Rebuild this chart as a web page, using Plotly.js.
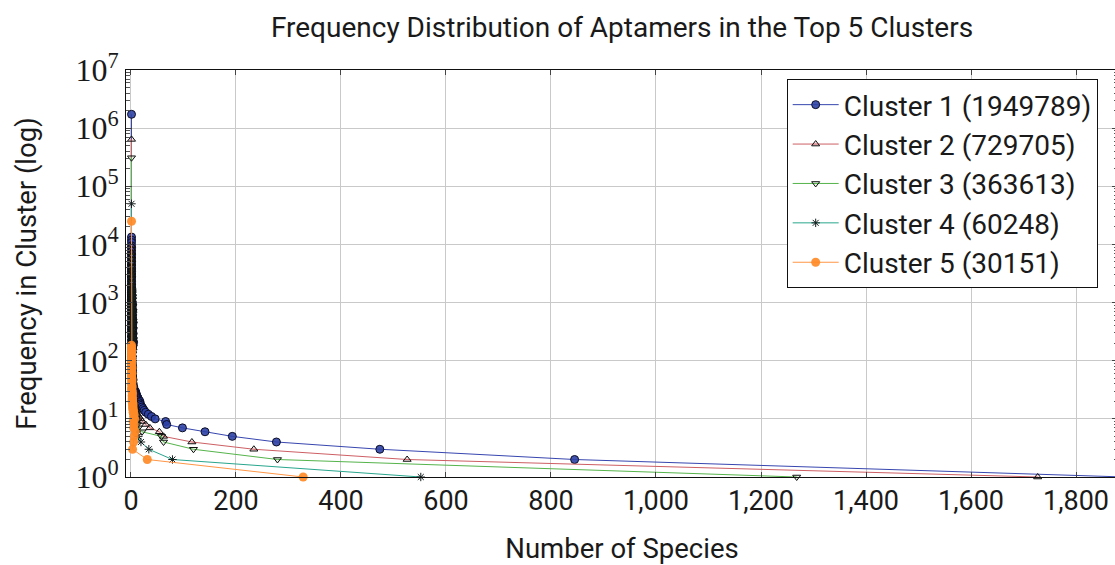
<!DOCTYPE html>
<html>
<head>
<meta charset="utf-8">
<script src="https://cdn.plot.ly/plotly-3.0.1.min.js"></script>
<style>
  html, body { margin: 0; padding: 0; overflow: hidden; background: #fff; }
  #chart { width: 1120px; height: 565px; }
</style>
</head>
<body>
<div id="chart"></div>
<script>
// Frequency of each aptamer (y) against how many species share that frequency (x)

const clusterNames = [
  'Cluster 1 (1949789)',
  'Cluster 2 (729705)',
  'Cluster 3 (363613)',
  'Cluster 4 (60248)',
  'Cluster 5 (30151)'
];

// Cluster 1
const c1Freq = [
  1730000, 13400, 11900, 10800, 9500, 8600, 7800, 7000, 6400, 5800, 5300,
  4800, 4400, 4000, 3700, 3400, 3100, 2850, 2600, 2400, 2200,
  2000, 1850, 1700, 1640, 1580, 1520, 1460, 1400, 1345, 1290,
  1240, 1190, 1145, 1100, 1055, 1015, 975, 935, 900, 865,
  830, 800, 768, 738, 710, 682, 655, 630, 605, 582,
  560, 538, 517, 497, 478, 460, 442, 425, 408, 392,
  377, 362, 348, 335, 322, 309, 297, 286, 275, 264,
  254, 244, 235, 226, 217, 208, 200, 192, 185, 178,
  166, 153, 141, 130, 120, 111, 102, 94, 87, 80,
  74, 68, 63, 58, 54, 50, 47, 44, 41, 38,
  36, 34, 32, 31, 30, 29, 28, 27, 26, 25,
  24, 23, 22, 21, 20, 19, 18, 17, 16, 15,
  14, 13, 12, 11, 10, 9, 8, 7, 6, 5, 4, 3, 2, 1
];
const c1Species = [
  1, 1, 1, 1, 1, 1, 1, 1, 1, 1, 1,
  1, 1, 1, 1, 1, 1, 1, 1, 1, 1,
  1, 1, 1, 1, 2, 1, 1, 1, 2, 1,
  1, 2, 1, 1, 1, 2, 1, 3, 1, 2,
  1, 2, 1, 3, 2, 1, 2, 1, 3, 2,
  1, 2, 3, 1, 2, 4, 1, 2, 3, 1,
  2, 4, 1, 3, 2, 1, 4, 2, 3, 1,
  2, 4, 3, 1, 2, 5, 3, 2, 4, 3,
  2, 1, 2, 1, 2, 2, 1, 2, 2, 3,
  2, 3, 2, 3, 3, 3, 4, 3, 4, 4,
  5, 5, 6, 7, 8, 9, 9, 10, 10, 11,
  12, 13, 14, 15, 17, 16, 18, 19, 21, 23,
  25, 28, 33, 39, 46, 66, 68, 98, 141, 193, 277, 474, 845, 1893
];

// Cluster 2
const c2Freq = [
  640000, 9600, 8300, 7200, 6300, 5500, 4800, 4200, 3700, 3250,
  2850, 2500, 2200, 1950, 1700, 1600, 1500, 1410, 1330, 1250,
  1180, 1110, 1040, 980, 920, 870, 820, 775, 730, 690,
  650, 615, 580, 548, 515, 487, 460, 435, 410, 387,
  365, 345, 325, 307, 290, 274, 260, 246, 232, 219,
  207, 196, 185, 175, 165, 156, 148, 140, 132, 125,
  118, 106, 95, 85, 76, 68, 61, 55, 50, 45,
  41, 37, 34, 31, 28, 26, 24, 22, 20, 19,
  18, 17, 16, 15, 14, 13, 12, 11, 10, 9, 8, 7, 6, 5, 4, 3, 2, 1
];
const c2Species = [
  1, 1, 1, 1, 1, 1, 1, 1, 1, 1,
  1, 1, 1, 1, 1, 2, 1, 1, 2, 1,
  1, 2, 1, 3, 1, 2, 1, 2, 3, 1,
  2, 1, 3, 2, 1, 4, 2, 1, 3, 2,
  1, 3, 2, 4, 2, 1, 3, 2, 4, 3,
  1, 2, 3, 2, 4, 2, 3, 1, 2, 3,
  2, 3, 2, 2, 2, 2, 2, 3, 2, 3,
  3, 3, 2, 3, 3, 3, 4, 4, 5, 5,
  6, 6, 7, 8, 9, 10, 12, 15, 18, 22, 28, 36, 54, 62, 116, 234, 526, 1727
];

// Cluster 3
const c3Freq = [
  310000, 6600, 5600, 4800, 4100, 3500, 3000, 2600, 2250, 1950,
  1700, 1590, 1480, 1380, 1290, 1200, 1120, 1050, 980, 920,
  860, 805, 750, 705, 660, 620, 580, 545, 510, 480,
  450, 422, 395, 372, 350, 330, 310, 292, 275, 260,
  245, 231, 218, 206, 194, 183, 173, 164, 155, 146,
  138, 123, 110, 98, 88, 79, 71, 64, 58, 52,
  47, 42, 38, 34, 31, 28, 25, 23, 21, 19,
  17, 15, 14, 13, 12, 11, 10, 9, 8, 7, 6, 5, 4, 3, 2, 1
];
const c3Species = [
  1, 1, 1, 1, 1, 1, 1, 1, 1, 1,
  1, 2, 1, 1, 2, 1, 3, 1, 2, 1,
  3, 1, 2, 4, 1, 2, 3, 1, 2, 4,
  1, 3, 2, 1, 4, 2, 3, 1, 2, 3,
  1, 4, 2, 3, 1, 2, 4, 3, 1, 2,
  2, 2, 1, 2, 2, 2, 3, 2, 3, 2,
  3, 3, 2, 3, 3, 3, 4, 4, 4, 5,
  5, 6, 6, 7, 8, 9, 10, 11, 12, 14, 21, 58, 62, 119, 279, 1268
];

// Cluster 4
const c4Freq = [
  50000, 3600, 2900, 2400, 1950, 1750, 1600, 1450, 1320, 1200,
  1090, 990, 900, 820, 750, 685, 620, 568, 520, 475,
  430, 395, 360, 330, 300, 275, 250, 230, 210, 192,
  176, 162, 148, 136, 125, 105, 89, 75, 64, 54,
  46, 39, 33, 28, 24, 21, 18, 16, 14, 12,
  10, 9, 8, 7, 6, 5, 4, 3, 2, 1
];
const c4Species = [
  1, 1, 1, 1, 1, 2, 1, 1, 3, 1,
  2, 1, 3, 1, 2, 4, 1, 2, 3, 1,
  4, 2, 1, 3, 2, 1, 4, 2, 3, 1,
  2, 3, 1, 2, 2, 1, 2, 2, 2, 2,
  3, 2, 3, 3, 3, 3, 4, 4, 4, 5,
  6, 7, 8, 9, 11, 14, 19, 34, 79, 552
];

// Cluster 5
const c5Freq = [
  25000, 185, 172, 160, 150, 140, 131, 122, 114, 106,
  99, 92, 86, 80, 75, 70, 65, 61, 57, 53,
  49, 46, 43, 40, 37, 35, 33, 31, 29, 27,
  25, 23, 22, 21, 20, 19, 18, 17, 16, 15,
  14, 13, 12, 11, 10, 9, 8, 7, 6, 5, 4, 3, 2, 1
];
const c5Species = [
  1, 1, 1, 1, 1, 1, 1, 1, 1, 1,
  1, 1, 1, 1, 2, 1, 1, 2, 1, 1,
  2, 1, 2, 1, 2, 2, 1, 2, 2, 3,
  2, 3, 2, 3, 2, 3, 4, 3, 4, 3,
  5, 4, 6, 5, 7, 4, 6, 5, 8, 6, 5, 3, 31, 328
];

// Axis ticks
const xTickValues = [0, 200, 400, 600, 800, 1000, 1200, 1400, 1600, 1800];
const yTickValues = [1, 10, 100, 1000, 10000, 100000, 1000000, 10000000];
const yTickText = ['10<sup>0</sup>', '10<sup>1</sup>', '10<sup>2</sup>', '10<sup>3</sup>',
                   '10<sup>4</sup>', '10<sup>5</sup>', '10<sup>6</sup>', '10<sup>7</sup>'];

// minor log ticks 2..9 within each decade
const yMinorTicks = [];
for (let d = 0; d < 7; d++) {
  for (let m = 2; m <= 9; m++) yMinorTicks.push(m * Math.pow(10, d));
}

const seriesX = [c1Species, c2Species, c3Species, c4Species, c5Species];
const seriesY = [c1Freq, c2Freq, c3Freq, c4Freq, c5Freq];

const styles = [
  { line: 'rgb(55,70,175)',  marker: { symbol: 'circle', size: 8, color: 'rgba(45,65,165,0.9)', line: { color: 'rgb(12,14,40)', width: 1 } } },
  { line: 'rgb(205,95,100)', marker: { symbol: 'triangle-up', size: 7, color: 'rgba(205,95,100,0.18)', line: { color: 'rgb(15,15,15)', width: 1 } } },
  { line: 'rgb(85,180,75)',  marker: { symbol: 'triangle-down', size: 7, color: 'rgba(85,180,75,0.15)', line: { color: 'rgb(15,15,15)', width: 1 } } },
  { line: 'rgb(40,165,140)', marker: { symbol: 'asterisk-open', size: 7, color: 'rgb(20,30,30)', line: { color: 'rgb(20,30,30)', width: 1 } } },
  { line: 'rgb(255,150,70)', marker: { symbol: 'circle', size: 9, color: 'rgba(255,138,38,0.92)', line: { width: 0 } } }
];

const traces = clusterNames.map((name, i) => ({
  type: 'scatter',
  mode: 'lines+markers',
  name: name,
  legendgroup: 'g' + i,
  x: seriesX[i],
  y: seriesY[i],
  line: { color: styles[i].line, width: 1 },
  marker: styles[i].marker,
  cliponaxis: false,
  hoverinfo: 'x+y+name'
}));

const sans = 'Roboto, "Noto Sans", sans-serif';
const textColor = '#1a1a1a';

const layout = {
  width: 1120,
  height: 565,
  margin: { l: 126, r: 2, t: 70, b: 88 },
  paper_bgcolor: '#ffffff',
  plot_bgcolor: '#ffffff',
  showlegend: true,
  title: {
    text: 'Frequency Distribution of Aptamers in the Top 5 Clusters',
    font: { family: sans, size: 28, color: textColor },
    xref: 'paper', x: 0.5, xanchor: 'center',
    yref: 'container', y: 0.952, yanchor: 'middle'
  },
  xaxis: {
    range: [-9.5, 1880],
    tickmode: 'array',
    tickvals: xTickValues,
    tickformat: ',d',
    tickfont: { family: sans, size: 27, color: textColor },
    ticks: 'inside', ticklen: 5, tickcolor: '#444', tickwidth: 1,
    showline: true, linecolor: '#111', linewidth: 1, mirror: 'ticks',
    showgrid: true, gridcolor: '#c9c9c9', gridwidth: 1,
    zeroline: false,
    title: { text: 'Number of Species', font: { family: sans, size: 27.5, color: textColor }, standoff: 24 }
  },
  yaxis: {
    type: 'log',
    range: [0, 7],
    tickmode: 'array',
    tickvals: yTickValues,
    ticktext: yTickText,
    tickfont: { family: '"Liberation Serif", "DejaVu Serif", serif', size: 32, color: textColor },
    ticks: 'inside', ticklen: 6, tickcolor: '#444', tickwidth: 1,
    minor: { tickmode: 'array', tickvals: yMinorTicks, ticks: 'inside', ticklen: 4, tickcolor: '#555', showgrid: false },
    showline: true, linecolor: '#111', linewidth: 1, mirror: 'ticks',
    showgrid: true, gridcolor: '#c9c9c9', gridwidth: 1,
    zeroline: false,
    title: { text: 'Frequency in Cluster (log)', font: { family: sans, size: 27.5, color: textColor }, standoff: 30 }
  },
  legend: {
    x: 0.666, y: 0.978, xanchor: 'left', yanchor: 'top',
    bgcolor: '#ffffff', bordercolor: '#111', borderwidth: 1,
    font: { family: sans, size: 28, color: textColor },
    itemwidth: 46,
    tracegroupgap: 5,
    traceorder: 'normal'
  }
};

Plotly.newPlot('chart', traces, layout, { displayModeBar: false, staticPlot: true });
</script>
</body>
</html>
